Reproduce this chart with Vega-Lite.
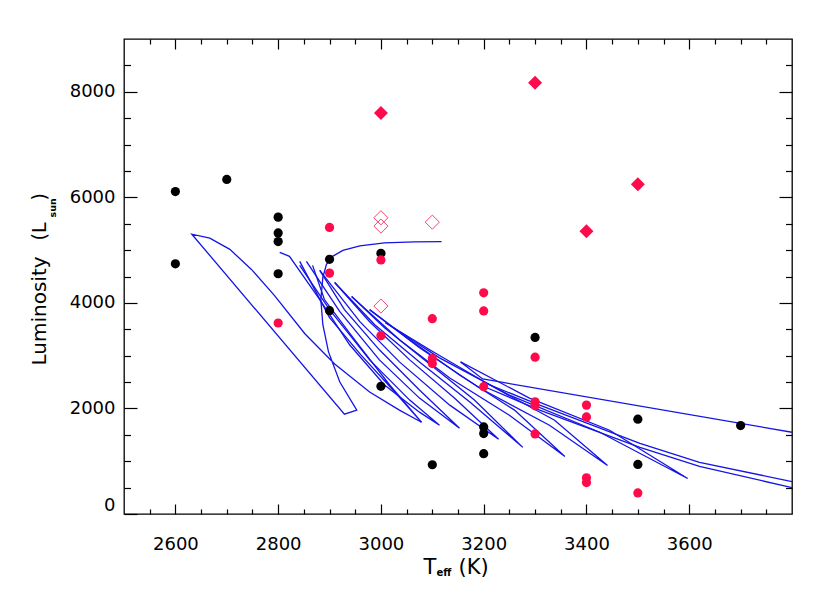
{
  "$schema": "https://vega.github.io/schema/vega-lite/v6.json",
  "width": 668,
  "height": 475,
  "autosize": {"type": "none"},
  "padding": {"left": 124, "top": 39, "right": 38, "bottom": 79},
  "background": "white",
  "config": {
    "view": {"stroke": "black", "strokeWidth": 1.3},
    "axis": {
      "grid": false, "domain": false, "tickColor": "black", "tickWidth": 1.2,
      "labelColor": "black", "titleColor": "black", "labelFont": "DejaVu Sans",
      "titleFont": "DejaVu Sans", "labelFontSize": 18, "titleFontWeight": "normal", "format": "d"
    }
  },
  "datasets": {
    "tracks": [
      {"k":"t1","i":0,"T":3118,"L":5162},{"k":"t1","i":1,"T":3066,"L":5156},{"k":"t1","i":2,"T":3007,"L":5139},{"k":"t1","i":3,"T":2959,"L":5082},{"k":"t1","i":4,"T":2926,"L":4996},{"k":"t1","i":5,"T":2906,"L":4882},{"k":"t1","i":6,"T":2894,"L":4730},{"k":"t1","i":7,"T":2887,"L":4482},{"k":"t1","i":8,"T":2883,"L":4063},{"k":"t1","i":9,"T":2887,"L":3587},{"k":"t1","i":10,"T":2898,"L":3072},{"k":"t1","i":11,"T":2920,"L":2501},{"k":"t1","i":12,"T":2953,"L":1968},{"k":"t1","i":13,"T":2929,"L":1891},{"k":"t1","i":14,"T":2632,"L":5301},{"k":"t1","i":15,"T":2667,"L":5225},{"k":"t1","i":16,"T":2706,"L":5015},{"k":"t1","i":17,"T":2748,"L":4634},{"k":"t1","i":18,"T":2793,"L":4139},{"k":"t1","i":19,"T":2852,"L":3415},{"k":"t1","i":20,"T":2910,"L":2844},{"k":"t1","i":21,"T":2978,"L":2311},{"k":"t1","i":22,"T":3036,"L":1968},{"k":"t1","i":23,"T":3079,"L":1739},
      {"k":"v0","i":0,"T":2803,"L":4958},{"k":"v0","i":1,"T":2822,"L":4882},{"k":"v0","i":2,"T":2881,"L":4063},{"k":"v0","i":3,"T":2939,"L":3206},{"k":"v0","i":4,"T":3007,"L":2444},{"k":"v0","i":5,"T":3075,"L":1930},{"k":"v0","i":6,"T":3114,"L":1682},{"k":"v0","i":7,"T":3056,"L":2158},{"k":"v0","i":8,"T":2978,"L":2920},{"k":"v0","i":9,"T":2900,"L":3872},{"k":"v0","i":10,"T":2842,"L":4711},
      {"k":"v1","i":0,"T":2842,"L":4787},{"k":"v1","i":1,"T":2900,"L":3720},{"k":"v1","i":2,"T":2961,"L":3015},{"k":"v1","i":3,"T":3027,"L":2311},{"k":"v1","i":4,"T":3079,"L":1739},{"k":"v1","i":5,"T":3017,"L":2444},{"k":"v1","i":6,"T":2949,"L":3301},{"k":"v1","i":7,"T":2890,"L":4063},{"k":"v1","i":8,"T":2867,"L":4711},
      {"k":"v2","i":0,"T":2855,"L":4787},{"k":"v2","i":1,"T":2920,"L":3834},{"k":"v2","i":2,"T":2997,"L":2920},{"k":"v2","i":3,"T":3075,"L":2196},{"k":"v2","i":4,"T":3153,"L":1625},{"k":"v2","i":5,"T":3075,"L":2349},{"k":"v2","i":6,"T":2997,"L":3111},{"k":"v2","i":7,"T":2929,"L":3872},{"k":"v2","i":8,"T":2881,"L":4615},
      {"k":"v3","i":0,"T":2881,"L":4615},{"k":"v3","i":1,"T":2959,"L":3644},{"k":"v3","i":2,"T":3036,"L":2882},{"k":"v3","i":3,"T":3134,"L":2063},{"k":"v3","i":4,"T":3229,"L":1415},{"k":"v3","i":5,"T":3143,"L":2196},{"k":"v3","i":6,"T":3056,"L":2920},{"k":"v3","i":7,"T":2978,"L":3644},{"k":"v3","i":8,"T":2910,"L":4387},
      {"k":"v4","i":0,"T":2910,"L":4387},{"k":"v4","i":1,"T":2988,"L":3587},{"k":"v4","i":2,"T":3075,"L":2882},{"k":"v4","i":3,"T":3173,"L":2120},{"k":"v4","i":4,"T":3276,"L":1263},{"k":"v4","i":5,"T":3182,"L":2158},{"k":"v4","i":6,"T":3085,"L":2920},{"k":"v4","i":7,"T":3007,"L":3530},{"k":"v4","i":8,"T":2943,"L":4120},
      {"k":"v5","i":0,"T":2943,"L":4120},{"k":"v5","i":1,"T":3036,"L":3301},{"k":"v5","i":2,"T":3134,"L":2577},{"k":"v5","i":3,"T":3250,"L":1872},{"k":"v5","i":4,"T":3358,"L":1091},{"k":"v5","i":5,"T":3260,"L":1968},{"k":"v5","i":6,"T":3153,"L":2634},{"k":"v5","i":7,"T":3056,"L":3301},{"k":"v5","i":8,"T":2978,"L":3872},
      {"k":"v6","i":0,"T":2978,"L":3872},{"k":"v6","i":1,"T":3075,"L":3149},{"k":"v6","i":2,"T":3192,"L":2387},{"k":"v6","i":3,"T":3328,"L":1682},{"k":"v6","i":4,"T":3441,"L":920},{"k":"v6","i":5,"T":3338,"L":1777},{"k":"v6","i":6,"T":3212,"L":2444},{"k":"v6","i":7,"T":3095,"L":3111},{"k":"v6","i":8,"T":3009,"L":3625},
      {"k":"v7","i":0,"T":3009,"L":3625},{"k":"v7","i":1,"T":3114,"L":2958},{"k":"v7","i":2,"T":3250,"L":2253},{"k":"v7","i":3,"T":3426,"L":1549},{"k":"v7","i":4,"T":3597,"L":672},{"k":"v7","i":5,"T":3445,"L":1587},{"k":"v7","i":6,"T":3289,"L":2196},{"k":"v7","i":7,"T":3155,"L":2882},
      {"k":"g","i":0,"T":3155,"L":2882},{"k":"g","i":1,"T":3198,"L":2558},{"k":"g","i":2,"T":3800,"L":1549},
      {"k":"h1","i":0,"T":3198,"L":2501},{"k":"h1","i":1,"T":3309,"L":2063},{"k":"h1","i":2,"T":3504,"L":1339},{"k":"h1","i":3,"T":3620,"L":977},{"k":"h1","i":4,"T":3800,"L":615},
      {"k":"h2","i":0,"T":3198,"L":2425},{"k":"h2","i":1,"T":3309,"L":1968},{"k":"h2","i":2,"T":3504,"L":1263},{"k":"h2","i":3,"T":3620,"L":901},{"k":"h2","i":4,"T":3800,"L":501}
    ],
    "black": [
      {"T":2600,"L":6110},{"T":2600,"L":4740},{"T":2700,"L":6340},{"T":2800,"L":5625},{"T":2800,"L":5326},{"T":2800,"L":5162},{"T":2800,"L":4552},{"T":2900,"L":4825},{"T":2900,"L":3853},{"T":3000,"L":4939},{"T":3000,"L":2419},{"T":3100,"L":933},{"T":3200,"L":1650},{"T":3200,"L":1524},{"T":3200,"L":1143},{"T":3300,"L":3345},{"T":3500,"L":1796},{"T":3500,"L":939},{"T":3700,"L":1676}
    ],
    "red": [
      {"T":2800,"L":3619},{"T":2900,"L":5429},{"T":2900,"L":4564},{"T":3000,"L":4813},{"T":3000,"L":3377},{"T":3100,"L":3701},{"T":3100,"L":2945},{"T":3100,"L":2850},{"T":3200,"L":4190},{"T":3200,"L":3848},{"T":3200,"L":2413},{"T":3300,"L":2971},{"T":3300,"L":2126},{"T":3300,"L":2050},{"T":3300,"L":1517},{"T":3400,"L":2063},{"T":3400,"L":1840},{"T":3400,"L":686},{"T":3400,"L":596},{"T":3500,"L":400}
    ],
    "diam": [
      {"T":3000,"L":7600},{"T":3300,"L":8171},{"T":3400,"L":5358},{"T":3500,"L":6248}
    ],
    "open": [
      {"T":3000,"L":5613},{"T":3000,"L":5455},{"T":3000,"L":3940},{"T":3100,"L":5530}
    ]
  },
  "layer": [
    {
      "data": {"name": "tracks"},
      "mark": {"type": "line", "color": "#1414e6", "strokeWidth": 1.3, "clip": true},
      "encoding": {
        "x": {"field": "T", "type": "quantitative",
          "scale": {"domain": [2500, 3800], "nice": false, "zero": false},
          "axis": {"orient": "bottom", "values": [2600, 2800, 3000, 3200, 3400, 3600], "tickSize": -10, "labelPadding": 31,
            "title": "T", "titleFontSize": 21, "titleX": 299, "titleY": 59, "titleAlign": "left", "titleBaseline": "alphabetic", "titleAngle": 0}},
        "y": {"field": "L", "type": "quantitative",
          "scale": {"domain": [0, 9000], "nice": false, "zero": false},
          "axis": {"orient": "left", "values": [0, 2000, 4000, 6000, 8000], "tickSize": -13, "labelPadding": 22, "labelFlush": true,
            "title": "Luminosity", "titleFontSize": 20, "titleX": -79, "titleY": 326, "titleAlign": "left", "titleBaseline": "alphabetic", "titleAngle": 270}},
        "detail": {"field": "k"},
        "order": {"field": "i", "type": "quantitative"}
      }
    },
    {
      "data": {"name": "black"},
      "mark": {"type": "point", "shape": "circle", "filled": true, "color": "black", "size": 85, "opacity": 1},
      "encoding": {
        "x": {"field": "T", "type": "quantitative",
          "axis": {"orient": "bottom", "values": [2550,2650,2700,2750,2850,2900,2950,3050,3100,3150,3250,3300,3350,3450,3500,3550,3650,3700,3750], "tickSize": -5, "labels": false,
            "title": "eff", "titleFontSize": 10, "titleFontWeight": "bold", "titleX": 312, "titleY": 61, "titleAlign": "left", "titleBaseline": "alphabetic", "titleAngle": 0}},
        "y": {"field": "L", "type": "quantitative",
          "axis": {"orient": "left", "values": [500,1000,1500,2500,3000,3500,4500,5000,5500,6500,7000,7500,8500], "tickSize": -6.5, "labels": false,
            "title": "(L", "titleFontSize": 19, "titleX": -79, "titleY": 201, "titleAlign": "left", "titleBaseline": "alphabetic", "titleAngle": 270}}
      }
    },
    {
      "data": {"name": "red"},
      "mark": {"type": "point", "shape": "circle", "filled": true, "color": "#ff0a4b", "size": 85, "opacity": 1},
      "encoding": {
        "x": {"field": "T", "type": "quantitative",
          "axis": {"orient": "top", "values": [2600, 2800, 3000, 3200, 3400, 3600], "tickSize": -10, "labels": false, "title": null}},
        "y": {"field": "L", "type": "quantitative",
          "axis": {"orient": "right", "values": [2000, 4000, 6000, 8000], "tickSize": -13, "labels": false,
            "title": ")", "titleFontSize": 19, "titleX": -747, "titleY": 161, "titleAlign": "left", "titleBaseline": "alphabetic", "titleAngle": 270}}
      }
    },
    {
      "data": {"name": "diam"},
      "mark": {"type": "point", "shape": "diamond", "filled": true, "color": "#ff0a4b", "size": 196, "opacity": 1},
      "encoding": {
        "x": {"field": "T", "type": "quantitative",
          "axis": {"orient": "top", "values": [2550,2650,2700,2750,2850,2900,2950,3050,3100,3150,3250,3300,3350,3450,3500,3550,3650,3700,3750], "tickSize": -5, "labels": false, "title": null}},
        "y": {"field": "L", "type": "quantitative",
          "axis": {"orient": "right", "values": [500,1000,1500,2500,3000,3500,4500,5000,5500,6500,7000,7500,8500], "tickSize": -6.5, "labels": false,
            "title": "sun", "titleFontSize": 9.5, "titleFontWeight": "bold", "titleX": -737, "titleY": 178, "titleAlign": "left", "titleBaseline": "alphabetic", "titleAngle": 270}}
      }
    },
    {
      "data": {"name": "open"},
      "mark": {"type": "point", "shape": "diamond", "filled": false, "stroke": "#ff4070", "strokeWidth": 1, "size": 200, "opacity": 1},
      "encoding": {
        "x": {"field": "T", "type": "quantitative",
          "axis": {"orient": "bottom", "ticks": false, "labels": false,
            "title": "(K)", "titleFontSize": 21, "titleX": 334, "titleY": 59, "titleAlign": "left", "titleBaseline": "alphabetic", "titleAngle": 0}},
        "y": {"field": "L", "type": "quantitative", "axis": null}
      }
    }
  ],
  "resolve": {"axis": {"x": "independent", "y": "independent"}}
}
